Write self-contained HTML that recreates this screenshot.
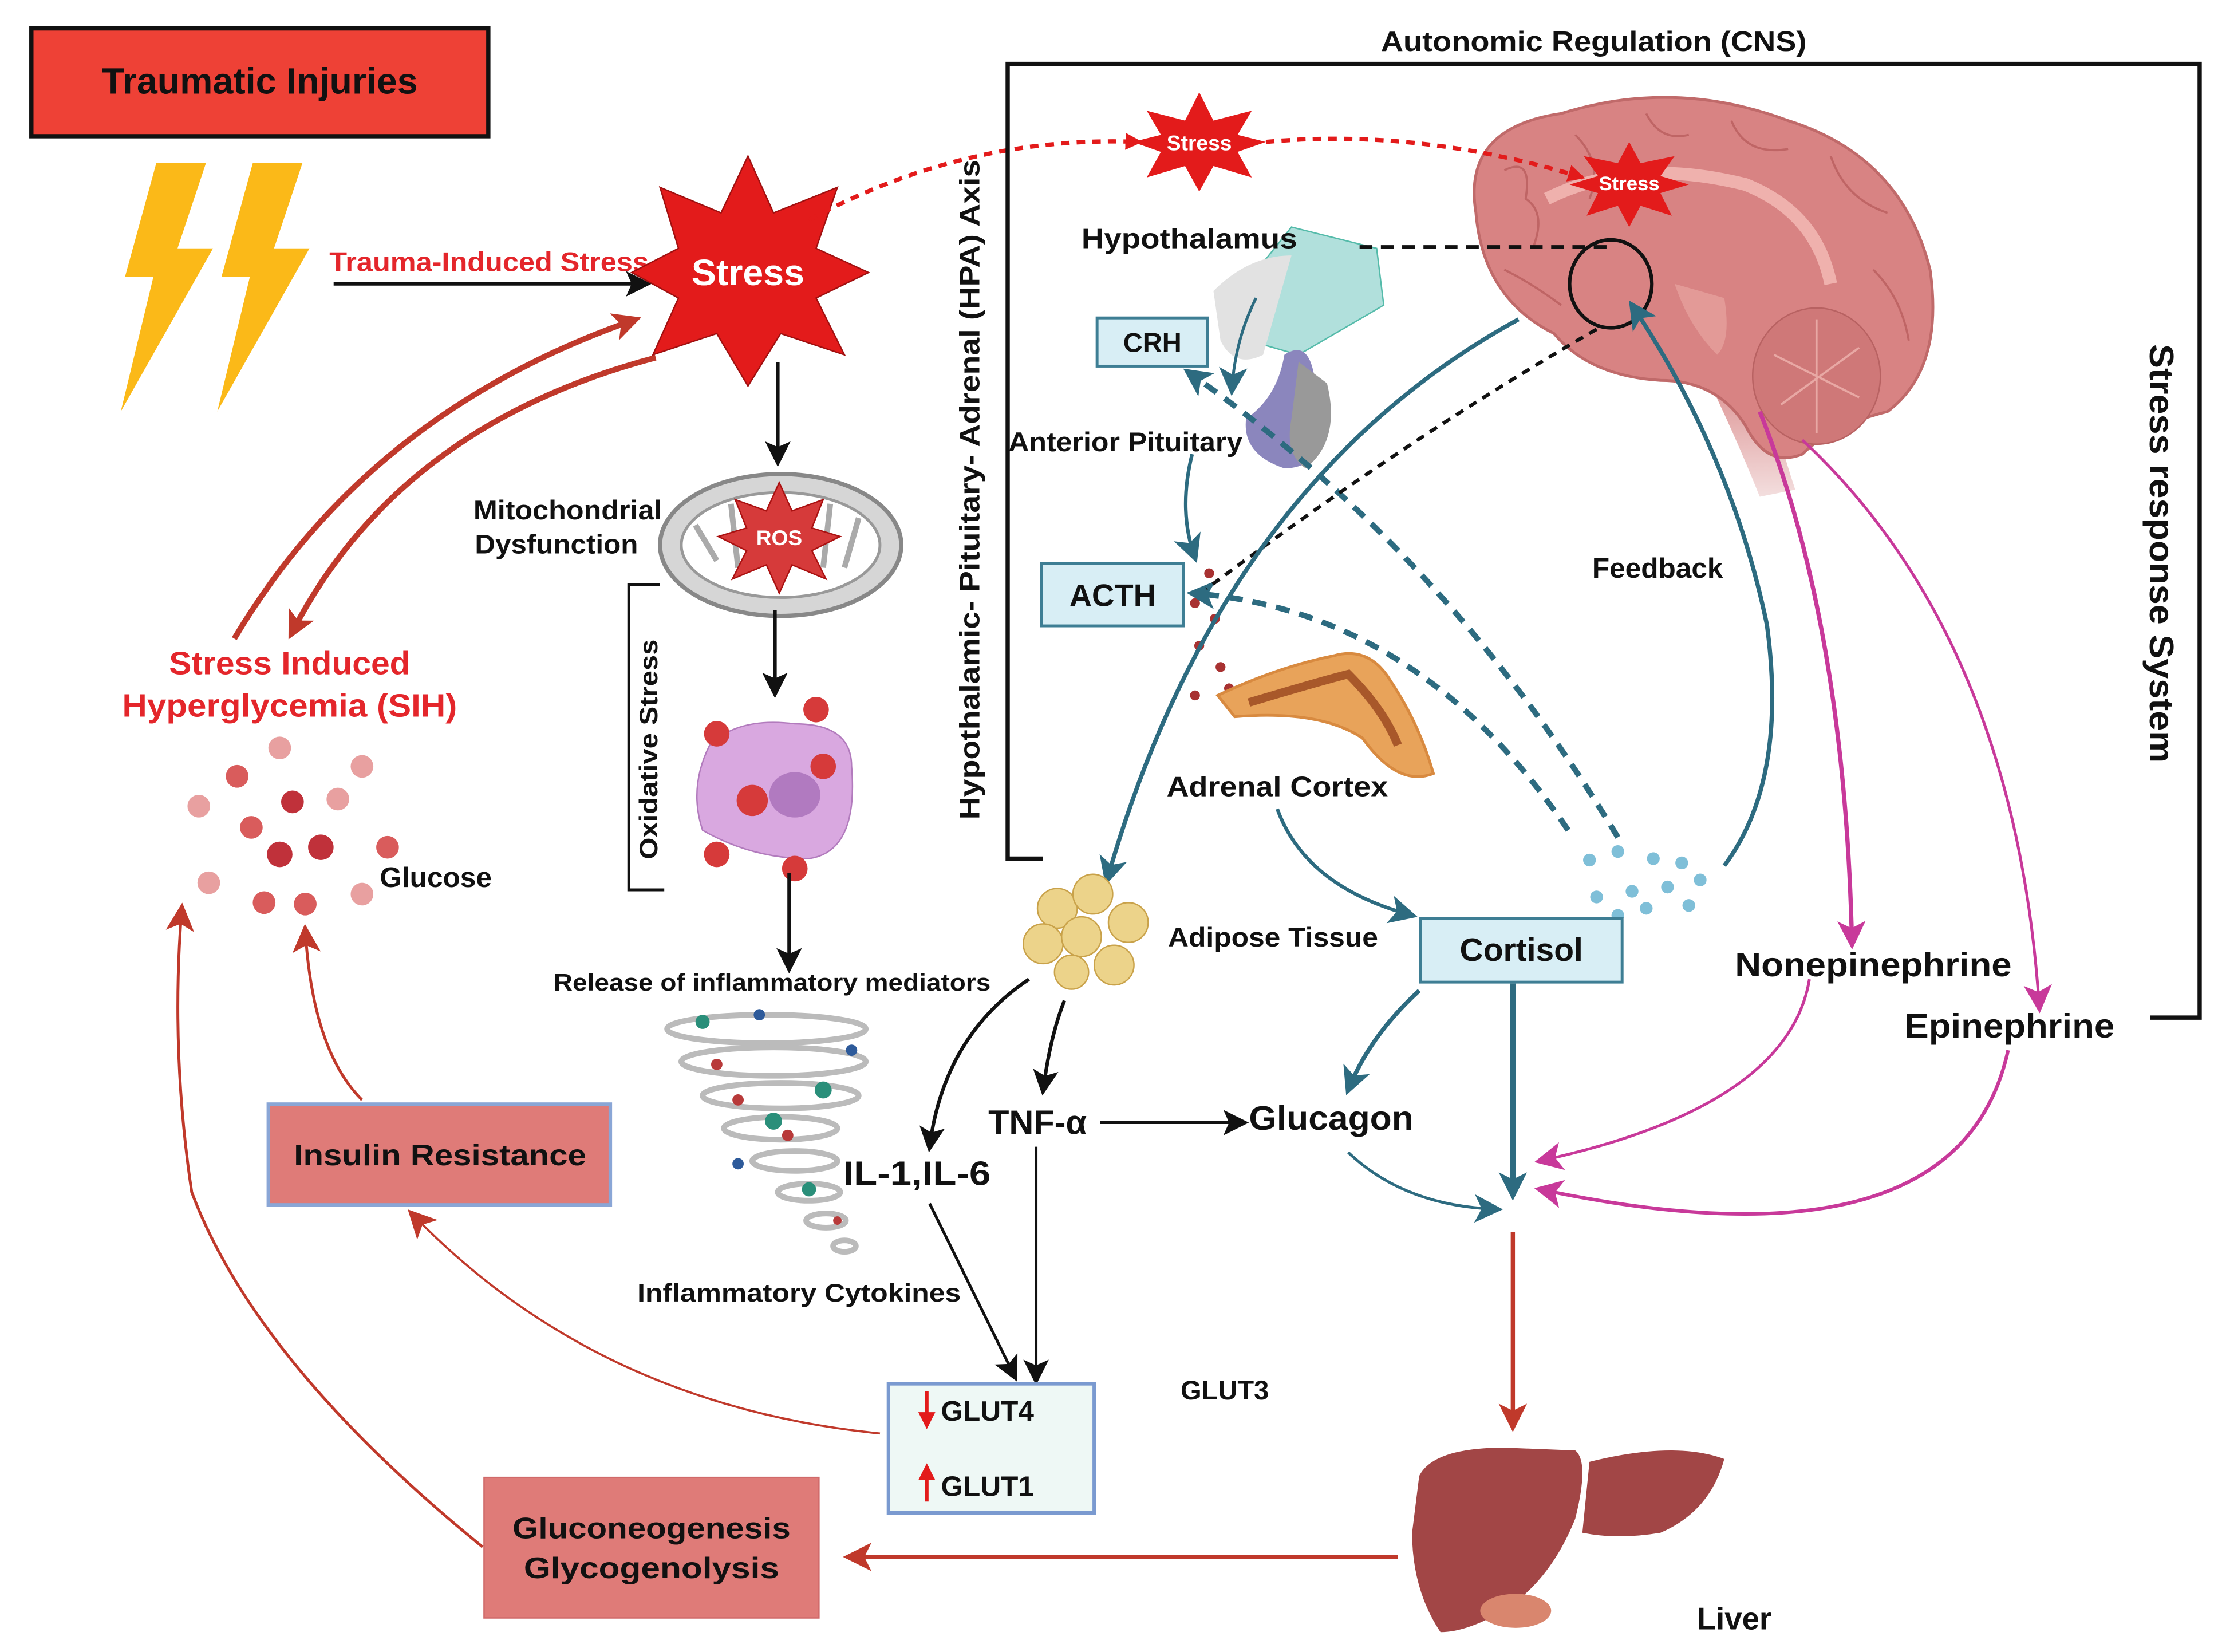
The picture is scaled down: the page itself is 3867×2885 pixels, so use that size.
<!DOCTYPE html>
<html><head><meta charset="utf-8"><style>html,body{margin:0;padding:0;background:#fff}svg{display:block}text{font-family:"Liberation Sans",sans-serif;font-weight:bold}</style></head><body>
<svg width="3867" height="2885" viewBox="0 0 1560 1164" xmlns="http://www.w3.org/2000/svg">
<defs>
<marker id="akb" markerWidth="18" markerHeight="18" refX="14" refY="9" orient="auto" markerUnits="userSpaceOnUse"><path d="M0,0L18,9L0,18L4,9z" fill="#111"/></marker>
<marker id="ar" markerWidth="20" markerHeight="20" refX="16" refY="10" orient="auto" markerUnits="userSpaceOnUse"><path d="M0,0L20,10L0,20L5,10z" fill="#c0392b"/></marker>
<marker id="at" markerWidth="20" markerHeight="20" refX="16" refY="10" orient="auto" markerUnits="userSpaceOnUse"><path d="M0,0L20,10L0,20L5,10z" fill="#2d6b80"/></marker>
<marker id="am" markerWidth="20" markerHeight="20" refX="16" refY="10" orient="auto" markerUnits="userSpaceOnUse"><path d="M0,0L20,10L0,20L5,10z" fill="#c8399a"/></marker>
<marker id="ard" markerWidth="12" markerHeight="12" refX="10" refY="6" orient="auto" markerUnits="userSpaceOnUse"><path d="M0,0L12,6L0,12z" fill="#e31b1b"/></marker>
<linearGradient id="bs" x1="0" y1="0" x2="0" y2="1"><stop offset="0" stop-color="#d88383"/><stop offset="1" stop-color="#f3dede"/></linearGradient>
</defs>
<rect width="1560" height="1164" fill="#fff"/>
<rect x="22" y="20" width="322" height="76" fill="#ee4136" stroke="#111" stroke-width="3"/>
<text x="183" y="66" font-size="26" text-anchor="middle" fill="#111">Traumatic Injuries</text>
<path d="M110,115 L145,115 L125,175 L150,175 L85,290 L108,195 L88,195 Z" fill="#fbb918"/>
<path d="M178,115 L213,115 L193,175 L218,175 L153,290 L176,195 L156,195 Z" fill="#fbb918"/>
<text x="232" y="191" font-size="19" fill="#e4262b" textLength="225" lengthAdjust="spacingAndGlyphs">Trauma-Induced Stress</text>
<line x1="235" y1="200" x2="455" y2="200" stroke="#111" stroke-width="2.5" marker-end="url(#akb)"/>
<polygon points="527,110 545,150 590,132 575,175 612,192 575,210 595,250 550,235 527,272 505,235 460,250 478,210 445,192 478,175 465,132 508,150" fill="#e31b1b" stroke="#a01010"/>
<text x="527" y="201" font-size="26" fill="#fff" text-anchor="middle">Stress</text>
<path d="M570,155 Q680,95 803,100" fill="none" stroke="#e31b1b" stroke-width="3" stroke-dasharray="6,5" marker-end="url(#ard)"/>
<!-- Brain -->
<path d="M1195,250 Q1220,300 1240,350 L1265,345 Q1250,300 1240,250 Z" fill="url(#bs)"/>
<path d="M1040,150 Q1030,90 1100,80 Q1180,55 1260,85 Q1340,110 1360,190 Q1370,260 1330,290 Q1290,300 1270,320 Q1245,330 1230,300 Q1210,268 1170,268 Q1120,265 1095,235 Q1045,210 1040,150 Z" fill="#d88383" stroke="#c06a6a" stroke-width="2"/>
<g fill="none" stroke="#bf6565" stroke-width="1.5">
<path d="M1060,120 Q1080,110 1075,140 Q1090,150 1080,175"/><path d="M1110,95 Q1130,115 1120,140"/><path d="M1160,80 Q1170,100 1190,95"/><path d="M1220,85 Q1230,110 1260,105"/><path d="M1290,110 Q1300,140 1330,150"/><path d="M1320,190 Q1340,210 1345,240"/><path d="M1060,190 Q1080,200 1100,215"/></g>
<path d="M1090,140 Q1150,110 1230,130 Q1280,150 1290,200" fill="none" stroke="#efb1ad" stroke-width="9"/>
<ellipse cx="1280" cy="265" rx="45" ry="48" fill="#cf7878" stroke="#b86262"/>
<g fill="none" stroke="#e8a8a4" stroke-width="1.5"><path d="M1250,250 L1310,280"/><path d="M1280,225 L1280,305"/><path d="M1255,285 L1310,245"/></g>
<path d="M1180,200 Q1190,230 1210,250 Q1220,240 1215,210 Z" fill="#e39a97"/>
<ellipse cx="1135" cy="200" rx="29" ry="31" fill="none" stroke="#111" stroke-width="2.5"/>
<path d="M892,100 Q1000,90 1115,125" fill="none" stroke="#e31b1b" stroke-width="3" stroke-dasharray="6,5" marker-end="url(#ard)"/>
<polygon points="845,65 855,85 882,78 872,95 892,100 872,107 882,125 855,117 845,135 835,117 808,125 818,107 798,100 818,95 808,78 835,85" fill="#e31b1b"/>
<text x="845" y="106" font-size="15" fill="#fff" text-anchor="middle">Stress</text>
<polygon points="1148,100 1156,115 1180,110 1170,124 1190,130 1170,136 1178,152 1156,145 1148,160 1140,145 1118,152 1126,136 1106,130 1126,124 1116,110 1140,115" fill="#e31b1b"/>
<text x="1148" y="134" font-size="14" fill="#fff" text-anchor="middle">Stress</text>
<path d="M735,605 L710,605 L710,45 L1550,45 L1550,717 L1515,717" fill="none" stroke="#111" stroke-width="3"/>
<text x="1123" y="36" font-size="20" text-anchor="middle" fill="#111" textLength="300" lengthAdjust="spacingAndGlyphs">Autonomic Regulation (CNS)</text>
<text transform="translate(690,345) rotate(-90)" font-size="20" text-anchor="middle" fill="#111" textLength="465" lengthAdjust="spacingAndGlyphs">Hypothalamic- Pituitary- Adrenal (HPA) Axis</text>
<text transform="translate(1515,390) rotate(90)" font-size="24" text-anchor="middle" fill="#111" textLength="295" lengthAdjust="spacingAndGlyphs">Stress response System</text>
<!-- Hypothalamus/pituitary -->
<path d="M910,160 L970,175 L975,215 L915,250 L880,240 L870,210 Z" fill="#b1e0dc" stroke="#5ba"/>
<path d="M855,205 Q880,180 910,180 L890,250 Q870,260 860,240 Z" fill="#e2e2e2"/>
<path d="M905,250 Q920,240 925,260 L935,300 Q930,330 905,330 Q875,320 878,295 Q900,280 905,250 Z" fill="#8b86bd"/>
<path d="M915,255 L935,270 Q945,310 920,330 Q905,320 910,295 Z" fill="#999"/>
<text x="838" y="175" font-size="20" text-anchor="middle" fill="#111" textLength="152" lengthAdjust="spacingAndGlyphs">Hypothalamus</text>
<line x1="958" y1="174" x2="1135" y2="174" stroke="#111" stroke-width="2.5" stroke-dasharray="9,6"/>
<rect x="773" y="224" width="78" height="34" fill="#d8eef5" stroke="#3e7e94" stroke-width="2"/>
<text x="812" y="248" font-size="19" text-anchor="middle" fill="#111">CRH</text>
<path d="M885,210 Q870,240 868,275" fill="none" stroke="#2d6b80" stroke-width="2" marker-end="url(#at)"/>
<text x="793" y="318" font-size="19" text-anchor="middle" fill="#111" textLength="165" lengthAdjust="spacingAndGlyphs">Anterior Pituitary</text>
<path d="M840,320 Q830,360 842,393" fill="none" stroke="#2d6b80" stroke-width="2.5" marker-end="url(#at)"/>
<rect x="734" y="397" width="100" height="44" fill="#d8eef5" stroke="#3e7e94" stroke-width="2"/>
<text x="784" y="427" font-size="22" text-anchor="middle" fill="#111">ACTH</text>
<g fill="#a83232"><circle cx="852" cy="404" r="3.5"/><circle cx="842" cy="425" r="3.5"/><circle cx="856" cy="436" r="3.5"/><circle cx="845" cy="455" r="3.5"/><circle cx="860" cy="470" r="3.5"/><circle cx="842" cy="490" r="3.5"/><circle cx="866" cy="485" r="3.5"/></g>
<text x="1168" y="407" font-size="20" text-anchor="middle" fill="#111">Feedback</text>
<path d="M858,490 Q900,470 940,462 Q965,455 980,480 Q1000,510 1010,545 Q985,555 960,520 Q930,500 870,505 Z" fill="#e8a35a" stroke="#d88a40" stroke-width="2"/>
<path d="M880,495 Q930,480 950,475 Q975,500 985,525" fill="none" stroke="#a8582a" stroke-width="6"/>
<text x="900" y="561" font-size="20" text-anchor="middle" fill="#111" textLength="156" lengthAdjust="spacingAndGlyphs">Adrenal Cortex</text>
<path d="M1140,590 Q1020,390 837,262" fill="none" stroke="#2d6b80" stroke-width="4" stroke-dasharray="10,7" marker-end="url(#at)"/>
<path d="M1105,585 Q1000,430 840,418" fill="none" stroke="#2d6b80" stroke-width="4" stroke-dasharray="10,7" marker-end="url(#at)"/>
<path d="M1125,232 Q990,310 850,415" fill="none" stroke="#111" stroke-width="2.5" stroke-dasharray="6,5"/>
<path d="M1070,225 Q860,340 780,620" fill="none" stroke="#2d6b80" stroke-width="3" marker-end="url(#at)"/>
<path d="M1215,610 Q1260,550 1245,440 Q1220,320 1150,215" fill="none" stroke="#2d6b80" stroke-width="3" marker-end="url(#at)"/>
<g fill="#7fbfd8"><circle cx="1120" cy="606" r="4.5"/><circle cx="1140" cy="600" r="4.5"/><circle cx="1165" cy="605" r="4.5"/><circle cx="1185" cy="608" r="4.5"/><circle cx="1125" cy="632" r="4.5"/><circle cx="1150" cy="628" r="4.5"/><circle cx="1175" cy="625" r="4.5"/><circle cx="1198" cy="620" r="4.5"/><circle cx="1140" cy="645" r="4.5"/><circle cx="1160" cy="640" r="4.5"/><circle cx="1190" cy="638" r="4.5"/></g>
<path d="M900,570 Q920,625 995,645" fill="none" stroke="#2d6b80" stroke-width="2.5" marker-end="url(#at)"/>
<path d="M1240,290 Q1300,440 1305,665" fill="none" stroke="#c8399a" stroke-width="3" marker-end="url(#am)"/>
<path d="M1270,310 Q1420,450 1437,710" fill="none" stroke="#c8399a" stroke-width="2" marker-end="url(#am)"/>
<text x="1320" y="688" font-size="24" text-anchor="middle" fill="#111" textLength="195" lengthAdjust="spacingAndGlyphs">Nonepinephrine</text>
<text x="1416" y="731" font-size="24" text-anchor="middle" fill="#111" textLength="148" lengthAdjust="spacingAndGlyphs">Epinephrine</text>
<path d="M1275,690 Q1260,780 1085,818" fill="none" stroke="#c8399a" stroke-width="2" marker-end="url(#am)"/>
<path d="M1415,740 Q1380,900 1085,838" fill="none" stroke="#c8399a" stroke-width="2.5" marker-end="url(#am)"/>
<rect x="1001" y="647" width="142" height="45" fill="#d8eef5" stroke="#3e7e94" stroke-width="2"/>
<text x="1072" y="677" font-size="23" text-anchor="middle" fill="#111">Cortisol</text>
<line x1="1066" y1="693" x2="1066" y2="842" stroke="#2d6b80" stroke-width="4" marker-end="url(#at)"/>
<path d="M1000,698 Q965,730 950,768" fill="none" stroke="#2d6b80" stroke-width="3" marker-end="url(#at)"/>
<text x="938" y="796" font-size="24" text-anchor="middle" fill="#111" textLength="116" lengthAdjust="spacingAndGlyphs">Glucagon</text>
<path d="M950,812 Q990,850 1055,852" fill="none" stroke="#2d6b80" stroke-width="2" marker-end="url(#at)"/>
<g stroke="#c9a24a" fill="#ecd38a"><circle cx="745" cy="640" r="14"/><circle cx="770" cy="630" r="14"/><circle cx="795" cy="650" r="14"/><circle cx="735" cy="665" r="14"/><circle cx="762" cy="660" r="14"/><circle cx="785" cy="680" r="14"/><circle cx="755" cy="685" r="12"/></g>
<text x="897" y="667" font-size="19" text-anchor="middle" fill="#111" textLength="148" lengthAdjust="spacingAndGlyphs">Adipose Tissue</text>
<path d="M725,690 Q665,730 655,808" fill="none" stroke="#111" stroke-width="2.5" marker-end="url(#akb)"/>
<path d="M750,705 Q740,730 735,768" fill="none" stroke="#111" stroke-width="2.5" marker-end="url(#akb)"/>
<text x="731" y="799" font-size="24" text-anchor="middle" fill="#111">TNF-α</text>
<line x1="775" y1="791" x2="876" y2="791" stroke="#111" stroke-width="2" marker-end="url(#akb)"/>
<text x="646" y="835" font-size="24" text-anchor="middle" fill="#111" textLength="104" lengthAdjust="spacingAndGlyphs">IL-1,IL-6</text>
<line x1="655" y1="848" x2="715" y2="970" stroke="#111" stroke-width="2" marker-end="url(#akb)"/>
<line x1="730" y1="808" x2="730" y2="972" stroke="#111" stroke-width="2" marker-end="url(#akb)"/>
<line x1="548" y1="255" x2="548" y2="325" stroke="#111" stroke-width="2.5" marker-end="url(#akb)"/>
<!-- mitochondria -->
<ellipse cx="550" cy="384" rx="85" ry="50" fill="#d6d6d6" stroke="#888" stroke-width="3"/>
<ellipse cx="550" cy="384" rx="70" ry="37" fill="#fff" stroke="#999" stroke-width="2"/>
<g fill="none" stroke="#aaa" stroke-width="4"><path d="M490,370 L505,395"/><path d="M515,355 L520,400"/><path d="M585,355 L580,400"/><path d="M605,365 L595,400"/></g>
<polygon points="549,340 558,360 580,352 572,372 592,378 572,388 582,408 558,398 549,418 540,398 516,408 526,388 506,378 526,372 518,352 540,360" fill="#d63a3a" stroke="#a11"/>
<text x="549" y="384" font-size="15" fill="#fff" text-anchor="middle">ROS</text>
<text x="400" y="366" font-size="19" text-anchor="middle" fill="#111" textLength="133" lengthAdjust="spacingAndGlyphs">Mitochondrial</text>
<text x="392" y="390" font-size="19" text-anchor="middle" fill="#111" textLength="115" lengthAdjust="spacingAndGlyphs">Dysfunction</text>
<path d="M465,412 L443,412 L443,627 L468,627" fill="none" stroke="#111" stroke-width="2"/>
<text transform="translate(463,528) rotate(-90)" font-size="18" text-anchor="middle" fill="#111" textLength="155" lengthAdjust="spacingAndGlyphs">Oxidative Stress</text>
<line x1="546" y1="430" x2="546" y2="488" stroke="#111" stroke-width="2.5" marker-end="url(#akb)"/>
<path d="M500,525 Q520,505 560,510 Q600,510 600,540 Q605,600 570,605 Q530,605 495,585 Q485,555 500,525 Z" fill="#d9a8e0" stroke="#b27bbd"/>
<ellipse cx="560" cy="560" rx="18" ry="16" fill="#b17ac0"/>
<g fill="#d63a3a"><circle cx="505" cy="517" r="9"/><circle cx="575" cy="500" r="9"/><circle cx="580" cy="540" r="9"/><circle cx="530" cy="564" r="11"/><circle cx="505" cy="602" r="9"/><circle cx="560" cy="612" r="9"/></g>
<line x1="556" y1="615" x2="556" y2="682" stroke="#111" stroke-width="2.5" marker-end="url(#akb)"/>
<text x="544" y="698" font-size="17" text-anchor="middle" fill="#111" textLength="308" lengthAdjust="spacingAndGlyphs">Release of inflammatory mediators</text>
<g fill="none" stroke="#bbb" stroke-width="4">
<ellipse cx="540" cy="725" rx="70" ry="10"/><ellipse cx="545" cy="748" rx="65" ry="10"/><ellipse cx="550" cy="772" rx="55" ry="9"/><ellipse cx="550" cy="795" rx="40" ry="8"/><ellipse cx="560" cy="818" rx="30" ry="7"/><ellipse cx="570" cy="840" rx="22" ry="6"/><ellipse cx="582" cy="860" rx="14" ry="5"/><ellipse cx="595" cy="878" rx="8" ry="4"/></g>
<g fill="#2a8f7a"><circle cx="495" cy="720" r="5"/><circle cx="580" cy="768" r="6"/><circle cx="545" cy="790" r="6"/><circle cx="570" cy="838" r="5"/></g>
<g fill="#b83a3a"><circle cx="505" cy="750" r="4"/><circle cx="520" cy="775" r="4"/><circle cx="555" cy="800" r="4"/><circle cx="590" cy="860" r="3"/></g>
<g fill="#2d5a9a"><circle cx="535" cy="715" r="4"/><circle cx="600" cy="740" r="4"/><circle cx="520" cy="820" r="4"/></g>
<text x="563" y="917" font-size="18" text-anchor="middle" fill="#111" textLength="228" lengthAdjust="spacingAndGlyphs">Inflammatory Cytokines</text>
<text x="863" y="986" font-size="19" text-anchor="middle" fill="#111">GLUT3</text>
<rect x="626" y="975" width="145" height="91" fill="#eef8f5" stroke="#7a9ad0" stroke-width="2.5"/>
<line x1="653" y1="980" x2="653" y2="1005" stroke="#e31b1b" stroke-width="2.5" marker-end="url(#ard)"/>
<text x="663" y="1001" font-size="20" fill="#111">GLUT4</text>
<line x1="653" y1="1058" x2="653" y2="1033" stroke="#e31b1b" stroke-width="2.5" marker-end="url(#ard)"/>
<text x="663" y="1054" font-size="20" fill="#111">GLUT1</text>
<line x1="1066" y1="868" x2="1066" y2="1005" stroke="#c0392b" stroke-width="3" marker-end="url(#ar)"/>
<path d="M1000,1040 Q1010,1020 1060,1020 L1110,1022 Q1120,1030 1110,1070 Q1090,1120 1050,1140 Q1030,1150 1015,1150 Q995,1120 995,1080 Z" fill="#a24646"/>
<path d="M1120,1030 Q1180,1015 1215,1028 Q1205,1065 1170,1080 Q1140,1085 1115,1080 Z" fill="#a24646"/>
<ellipse cx="1068" cy="1135" rx="25" ry="12" fill="#d9866e"/>
<text x="1222" y="1148" font-size="22" text-anchor="middle" fill="#111">Liver</text>
<line x1="985" y1="1097" x2="598" y2="1097" stroke="#c0392b" stroke-width="3" marker-end="url(#ar)"/>
<rect x="341" y="1041" width="236" height="99" fill="#df7b78" stroke="#d06a6a"/>
<text x="459" y="1084" font-size="21" text-anchor="middle" fill="#111" textLength="196" lengthAdjust="spacingAndGlyphs">Gluconeogenesis</text>
<text x="459" y="1112" font-size="21" text-anchor="middle" fill="#111" textLength="180" lengthAdjust="spacingAndGlyphs">Glycogenolysis</text>
<rect x="189" y="778" width="241" height="71" fill="#df7b78" stroke="#8aa6d6" stroke-width="2.5"/>
<text x="310" y="821" font-size="21" text-anchor="middle" fill="#111" textLength="206" lengthAdjust="spacingAndGlyphs">Insulin Resistance</text>
<path d="M620,1010 Q420,990 290,855" fill="none" stroke="#c0392b" stroke-width="1.5" marker-end="url(#ar)"/>
<path d="M255,775 Q220,740 215,655" fill="none" stroke="#c0392b" stroke-width="2" marker-end="url(#ar)"/>
<path d="M340,1090 Q180,960 135,840 Q120,740 128,640" fill="none" stroke="#c0392b" stroke-width="2" marker-end="url(#ar)"/>
<text x="204" y="475" font-size="23" text-anchor="middle" fill="#e4262b" textLength="170" lengthAdjust="spacingAndGlyphs">Stress Induced</text>
<text x="204" y="505" font-size="23" text-anchor="middle" fill="#e4262b" textLength="236" lengthAdjust="spacingAndGlyphs">Hyperglycemia (SIH)</text>
<path d="M165,450 Q260,290 448,225" fill="none" stroke="#c0392b" stroke-width="4" marker-end="url(#ar)"/>
<path d="M462,252 Q280,300 205,447" fill="none" stroke="#c0392b" stroke-width="4" marker-end="url(#ar)"/>
<g fill="#e8a0a0"><circle cx="197" cy="527" r="8"/><circle cx="255" cy="540" r="8"/><circle cx="140" cy="568" r="8"/><circle cx="238" cy="563" r="8"/><circle cx="147" cy="622" r="8"/><circle cx="255" cy="630" r="8"/></g>
<g fill="#d95c5c"><circle cx="167" cy="547" r="8"/><circle cx="177" cy="583" r="8"/><circle cx="273" cy="597" r="8"/><circle cx="186" cy="636" r="8"/><circle cx="215" cy="637" r="8"/></g>
<g fill="#c0313a"><circle cx="206" cy="565" r="8"/><circle cx="197" cy="602" r="9"/><circle cx="226" cy="597" r="9"/></g>
<text x="307" y="625" font-size="20" text-anchor="middle" fill="#111">Glucose</text>
</svg>
</body></html>
